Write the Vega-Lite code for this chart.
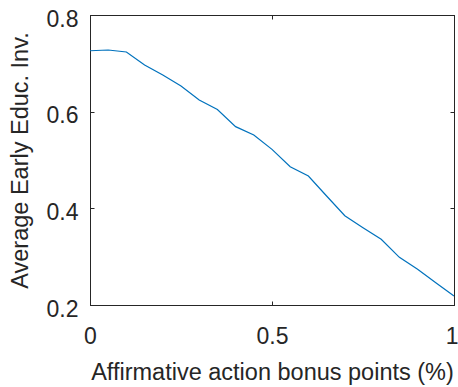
{
  "$schema": "https://vega.github.io/schema/vega-lite/v6.json",
  "width": 364,
  "height": 290,
  "autosize": "none",
  "padding": {"left": 90, "top": 15, "right": 4, "bottom": 82},
  "background": "white",
  "data": {
    "values": [
      {"bonus": 0.00, "inv": 0.726},
      {"bonus": 0.05, "inv": 0.7276},
      {"bonus": 0.10, "inv": 0.7234},
      {"bonus": 0.15, "inv": 0.6966},
      {"bonus": 0.20, "inv": 0.6759},
      {"bonus": 0.25, "inv": 0.653},
      {"bonus": 0.30, "inv": 0.624},
      {"bonus": 0.35, "inv": 0.6045},
      {"bonus": 0.40, "inv": 0.569},
      {"bonus": 0.45, "inv": 0.5517},
      {"bonus": 0.50, "inv": 0.522},
      {"bonus": 0.55, "inv": 0.4862},
      {"bonus": 0.60, "inv": 0.4669},
      {"bonus": 0.65, "inv": 0.4255},
      {"bonus": 0.70, "inv": 0.3848},
      {"bonus": 0.75, "inv": 0.36},
      {"bonus": 0.80, "inv": 0.336},
      {"bonus": 0.85, "inv": 0.2986},
      {"bonus": 0.90, "inv": 0.2738},
      {"bonus": 0.95, "inv": 0.246},
      {"bonus": 1.00, "inv": 0.2186}
    ]
  },
  "layer": [
    {
      "mark": {"type": "line", "color": "#0072BD", "strokeWidth": 1.2, "clip": true},
      "encoding": {
        "x": {
          "field": "bonus", "type": "quantitative",
          "scale": {"domain": [0, 1], "nice": false, "zero": false},
          "axis": {
            "orient": "bottom",
            "title": "Affirmative action bonus points (%)",
            "values": [0, 0.5, 1],
            "format": "~g",
            "labelPadding": 24,
            "labelAlign": {"condition": {"test": "datum.value == 1", "value": "right"}, "value": "center"},
            "labelOffset": {"condition": {"test": "datum.value == 1", "value": 4}, "value": 0},
            "titlePadding": 12
          }
        },
        "y": {
          "field": "inv", "type": "quantitative",
          "scale": {"domain": [0.2, 0.8], "nice": false, "zero": false},
          "axis": {
            "orient": "left",
            "title": "Average Early Educ. Inv.",
            "values": [0.2, 0.4, 0.6, 0.8],
            "format": ".1f",
            "labelPadding": 16,
            "labelOffset": 4,
            "titlePadding": 14
          }
        }
      }
    },
    {
      "mark": {"type": "line", "strokeOpacity": 0},
      "encoding": {
        "x": {
          "field": "bonus", "type": "quantitative",
          "scale": {"domain": [0, 1], "nice": false, "zero": false},
          "axis": {"orient": "top", "title": null, "values": [0, 0.5, 1], "labels": false}
        },
        "y": {
          "field": "inv", "type": "quantitative",
          "scale": {"domain": [0.2, 0.8], "nice": false, "zero": false},
          "axis": {"orient": "right", "title": null, "values": [0.2, 0.4, 0.6, 0.8], "labels": false}
        }
      }
    }
  ],
  "resolve": {"axis": {"x": "independent", "y": "independent"}},
  "config": {
    "font": "Liberation Sans",
    "view": {"stroke": "#262626", "strokeWidth": 1},
    "axis": {
      "grid": false,
      "domainColor": "#262626",
      "domainWidth": 1,
      "tickColor": "#262626",
      "tickWidth": 1,
      "tickSize": -4,
      "labelColor": "#262626",
      "labelFont": "Liberation Sans",
      "labelFontSize": 23,
      "labelFlush": false,
      "labelOverlap": false,
      "labelBound": false,
      "titleColor": "#262626",
      "titleFont": "Liberation Sans",
      "titleFontSize": 23.5,
      "titleFontWeight": "normal"
    }
  }
}
